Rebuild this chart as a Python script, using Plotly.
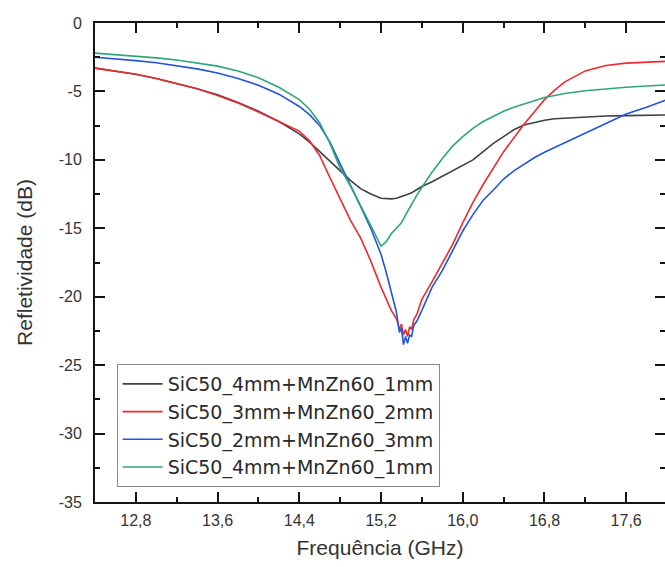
import plotly.graph_objects as go

# ---------------- data ----------------
freq = [12.4, 12.6, 12.8, 13.0, 13.2, 13.4, 13.6, 13.8, 14.0, 14.2, 14.4, 14.5, 14.6, 14.7,
        14.8, 14.9, 15.0, 15.1, 15.2, 15.25, 15.3, 15.35, 15.4, 15.45, 15.5, 15.55, 15.6,
        15.7, 15.8, 15.9, 16.0, 16.1, 16.2, 16.3, 16.4, 16.5, 16.6, 16.7, 16.8, 16.9, 17.0,
        17.2, 17.4, 17.6, 17.8, 18.0]

sic4_mnzn1_a = [-3.3, -3.5, -3.75, -4.05, -4.4, -4.8, -5.25, -5.8, -6.45, -7.2, -8.1, -8.7,
                -9.4, -10.1, -10.8, -11.5, -12.1, -12.5, -12.8, -12.85, -12.85, -12.8, -12.7,
                -12.55, -12.4, -12.15, -11.95, -11.6, -11.2, -10.8, -10.45, -10.0, -9.4, -8.8,
                -8.3, -7.8, -7.45, -7.25, -7.1, -7.0, -6.95, -6.85, -6.8, -6.77, -6.75, -6.72]

sic3_mnzn2 = [-3.3, -3.5, -3.75, -4.05, -4.4, -4.8, -5.3, -5.85, -6.5, -7.2, -7.9, -8.6,
              -9.7, -11.3, -12.9, -14.4, -15.7, -17.4, -19.3, -20.2, -21.0, -21.6, -22.2,
              -22.8, -22.3, -21.3, -20.2, -18.9, -17.6, -16.2, -14.6, -13.1, -11.8, -10.6,
              -9.4, -8.4, -7.4, -6.5, -5.6, -4.9, -4.3, -3.5, -3.1, -2.93, -2.85, -2.8]

sic2_mnzn3 = [-2.5, -2.6, -2.75, -2.9, -3.1, -3.35, -3.65, -4.05, -4.55, -5.2, -6.1, -6.7,
              -7.5, -8.7, -10.3, -11.8, -13.4, -15.0, -16.9, -18.2, -19.6, -21.1, -22.6,
              -23.3, -22.7, -21.8, -21.0, -19.3, -18.1, -16.7, -15.2, -14.0, -12.95, -12.2,
              -11.4, -10.8, -10.3, -9.85, -9.45, -9.1, -8.7, -8.0, -7.3, -6.65, -6.15, -5.6]

sic4_mnzn1_b = [-2.2, -2.3, -2.4, -2.55, -2.7, -2.9, -3.15, -3.5, -4.0, -4.7, -5.6, -6.3,
                -7.3, -8.8, -10.6, -11.9, -13.3, -14.8, -16.3, -16.0, -15.4, -15.0, -14.6,
                -13.9, -13.2, -12.6, -12.0, -10.9, -9.9, -9.0, -8.3, -7.7, -7.2, -6.8, -6.45,
                -6.15, -5.9, -5.65, -5.45, -5.3, -5.15, -4.95, -4.8, -4.7, -4.6, -4.52]

# noisy detail around the minimum of the two deep curves
min_freq = [15.36, 15.38, 15.40, 15.42, 15.44, 15.46, 15.48, 15.50, 15.52]
sic3_min = [-21.8, -22.4, -22.0, -22.8, -22.4, -22.9, -22.2, -22.4, -21.7]
sic2_min = [-21.6, -22.6, -22.3, -23.5, -22.9, -23.4, -22.8, -22.9, -22.1]

series_names = ["SiC50_4mm+MnZn60_1mm", "SiC50_3mm+MnZn60_2mm",
                "SiC50_2mm+MnZn60_3mm", "SiC50_4mm+MnZn60_1mm"]
series_colors = ["#404040", "#ee2a30", "#2354e0", "#2fa67a"]

x_tick_vals = [12.8, 13.6, 14.4, 15.2, 16.0, 16.8, 17.6]
x_tick_text = ["12,8", "13,6", "14,4", "15,2", "16,0", "16,8", "17,6"]
y_tick_vals = [0, -5, -10, -15, -20, -25, -30, -35]
y_tick_text = ["0", "-5", "-10", "-15", "-20", "-25", "-30", "-35"]


def merge(xs, ys, mx, my):
    pts = [(a, b) for a, b in zip(xs, ys) if not (mx[0] <= a <= mx[-1])]
    pts += list(zip(mx, my))
    pts.sort()
    return [p[0] for p in pts], [p[1] for p in pts]


x_red, y_red = merge(freq, sic3_mnzn2, min_freq, sic3_min)
x_blue, y_blue = merge(freq, sic2_mnzn3, min_freq, sic2_min)

traces = [
    (freq, sic4_mnzn1_a),
    (x_red, y_red),
    (x_blue, y_blue),
    (freq, sic4_mnzn1_b),
]

fig = go.Figure()
for (xs, ys), name, col in zip(traces, series_names, series_colors):
    fig.add_trace(go.Scatter(x=xs, y=ys, mode="lines", name=name,
                             line=dict(color=col, width=1.6)))

# invisible helper trace so the right-hand tick axis gets drawn
fig.add_trace(go.Scatter(x=[12.4], y=[-35], yaxis="y2", mode="lines",
                         showlegend=False, hoverinfo="skip",
                         line=dict(color="rgba(0,0,0,0)")))

font_family = "Liberation Sans, Arial, sans-serif"
ink = "#141414"

fig.update_layout(
    width=665, height=567,
    margin=dict(l=95, r=0, t=23, b=65, autoexpand=False),
    paper_bgcolor="white", plot_bgcolor="white",
    font=dict(family=font_family, color="#333333"),
    showlegend=True,
    legend=dict(x=0.038, y=0.288, xanchor="left", yanchor="top",
                bgcolor="rgba(255,255,255,0)", bordercolor="#8a8a8a", borderwidth=1,
                font=dict(family="DejaVu Sans, sans-serif", size=19, color="#2a2a2a"),
                tracegroupgap=0, itemwidth=40),
)
fig.update_layout(
    xaxis=dict(range=[12.4, 17.98], showgrid=False, zeroline=False, automargin=False,
               showline=True, linecolor=ink, linewidth=2, mirror="ticks",
               ticks="inside", ticklen=10, tickwidth=2, tickcolor=ink,
               tickmode="array", tickvals=x_tick_vals, ticktext=x_tick_text,
               tickfont=dict(size=16, color="#333333"), ticklabelstandoff=3,
               minor=dict(tickmode="linear", tick0=12.4, dtick=0.4, ticks="inside",
                          ticklen=5, tickwidth=2, tickcolor=ink, showgrid=False),
               title=dict(text="Frequência (GHz)", font=dict(size=21, color="#333333"),
                          standoff=12)),
    yaxis=dict(range=[-35, 0], showgrid=False, zeroline=False, automargin=False,
               showline=True, linecolor=ink, linewidth=2, mirror=False,
               ticks="inside", ticklen=10, tickwidth=2, tickcolor=ink,
               tickmode="array", tickvals=y_tick_vals, ticktext=y_tick_text,
               tickfont=dict(size=16, color="#333333"), ticklabelstandoff=8,
               minor=dict(tickmode="linear", tick0=0, dtick=2.5, ticks="inside",
                          ticklen=5, tickwidth=2, tickcolor=ink, showgrid=False),
               title=dict(text="Refletividade (dB)", font=dict(size=21, color="#333333"),
                          standoff=20)),
    yaxis2=dict(range=[-35, 0], overlaying="y", side="right", showgrid=False,
                zeroline=False, showline=False, showticklabels=False, automargin=False,
                ticks="inside", ticklen=10, tickwidth=2, tickcolor=ink,
                tickmode="array", tickvals=y_tick_vals,
                minor=dict(tickmode="linear", tick0=0, dtick=2.5, ticks="inside",
                           ticklen=5, tickwidth=2, tickcolor=ink, showgrid=False)),
)

fig.write_html("out.html", config={"displayModeBar": False},
               post_script="document.body.style.margin='0px';")
